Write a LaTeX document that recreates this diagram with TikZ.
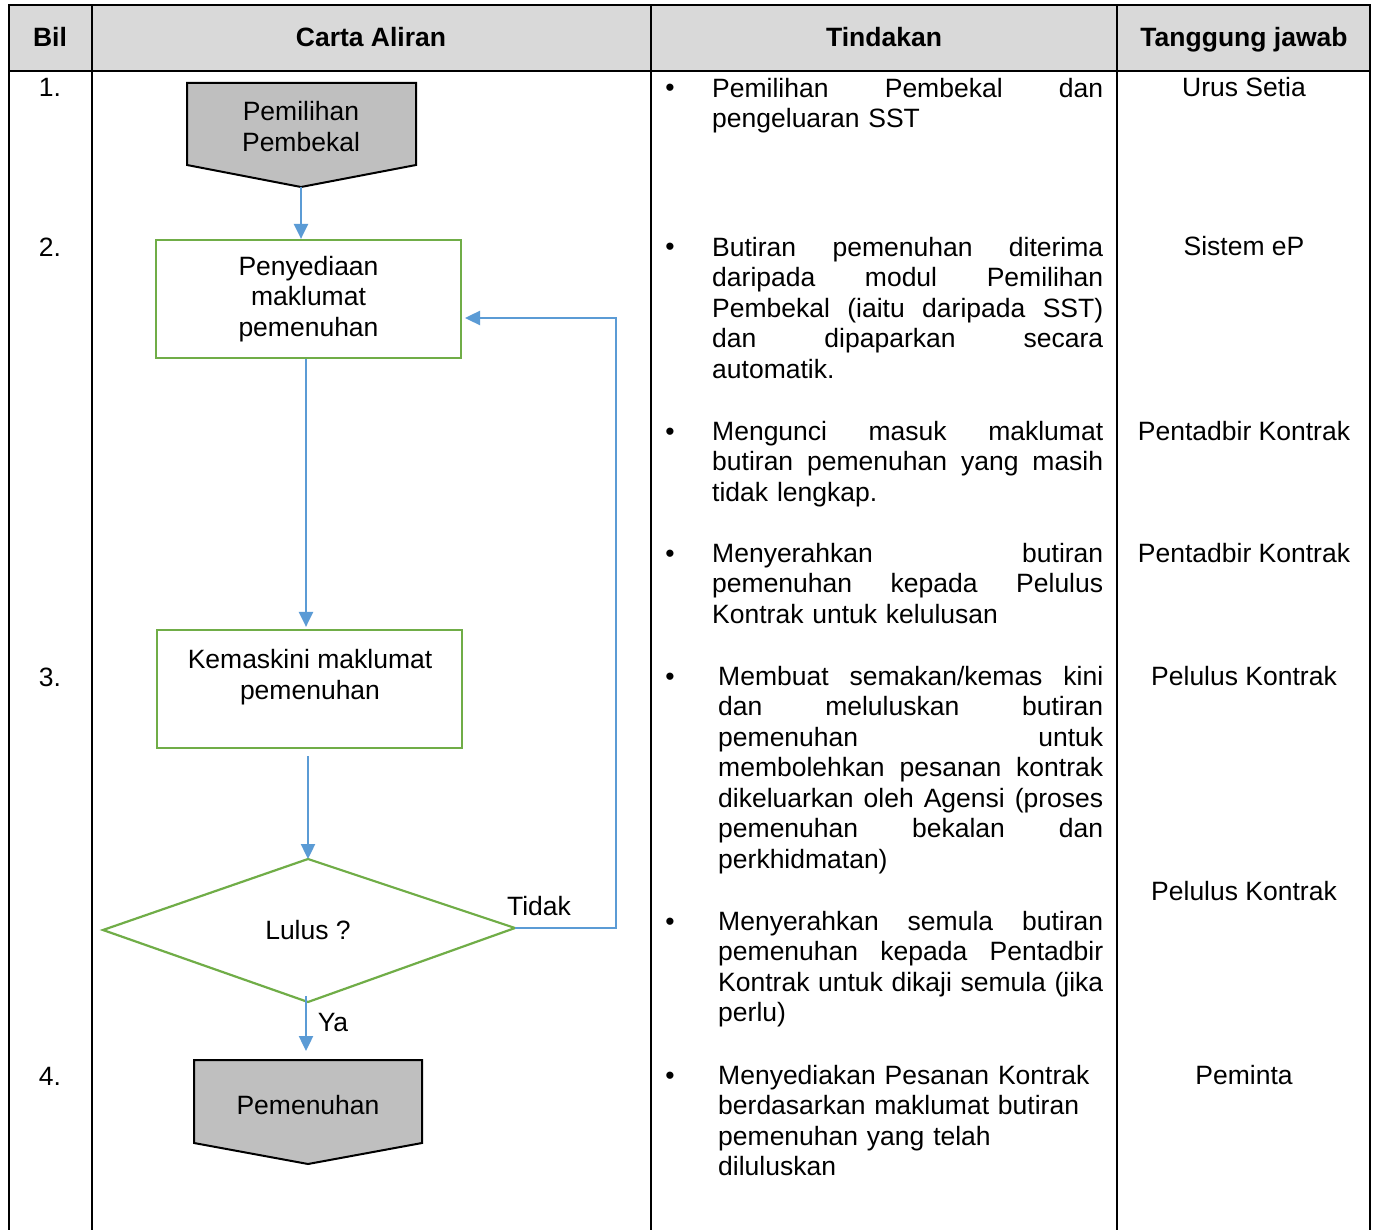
\documentclass[tikz,border=0pt]{standalone}
\usepackage{fontspec}
\setmainfont{Liberation Sans}
\usetikzlibrary{arrows.meta,calc}
\setlength\parindent{0pt}
\definecolor{flowblue}{HTML}{5B9BD5}
\definecolor{flowgreen}{HTML}{70AD47}
\definecolor{shapegray}{HTML}{BFBFBF}
\definecolor{headgray}{HTML}{D9D9D9}
\newcommand\jline[2]{\leavevmode\hbox to #1{#2}}
\begin{document}
\begin{tikzpicture}[x=1pt,y=-1pt,
  txt/.style={font=\fontsize{26.5pt}{30.5pt}\selectfont, inner sep=0pt},
  hdr/.style={txt, font=\fontsize{26.5pt}{30.5pt}\selectfont\bfseries, anchor=base},
  cell/.style={txt, anchor=base},
  para/.style={txt, anchor=north west, text width=#1, align=left},
  grid/.style={line width=1.8pt, black},
  gbox/.style={txt, draw=flowgreen, line width=2.2pt, minimum width=305pt, minimum height=118pt, align=center},
  conn/.style={draw=flowblue, line width=2.4pt, -{Triangle[length=15pt,width=14pt]}},
  offpage/.style={draw=black, fill=shapegray, line width=2pt, line join=miter},
  diam/.style={draw=flowgreen, line width=2.2pt, line join=miter},
]
\useasboundingbox (0,0) rectangle (1376,1230);
\fill[white] (0,0) rectangle (1376,1230);
% table
\fill[headgray] (9,5) rectangle (1370,71);
\draw[grid] (9,1230) -- (9,5) -- (1370,5) -- (1370,1230);
\draw[grid] (9,71) -- (1370,71);
\draw[grid] (92,5) -- (92,1230);
\draw[grid] (651,5) -- (651,1230);
\draw[grid] (1117,5) -- (1117,1230);
% header
\node[hdr] (hbil) at (50,46.5) {Bil};
\node[hdr] (hcarta) at (371,46.5) {Carta Aliran};
\node[hdr] (htind) at (884,46.5) {Tindakan};
\node[hdr] (htj) at (1244,46.5) {Tanggung jawab};
% Bil
\node[cell] (n1) at (50,97) {1.};
\node[cell] (n2) at (50,257) {2.};
\node[cell] (n3) at (50,686) {3.};
\node[cell] (n4) at (50,1085) {4.};
% Tindakan
\node[cell] (bu1) at (670,97) {•};
\node[para=391pt] (t1) at (712,{97-21.35}) {\strut\jline{391pt}{Pemilihan\hfill Pembekal\hfill dan}\\pengeluaran SST};
\node[cell] (bu2) at (670,256) {•};
\node[para=391pt] (t2) at (712,{256-21.35}) {\strut\jline{391pt}{Butiran\hfill pemenuhan\hfill diterima}\\\jline{391pt}{daripada\hfill modul\hfill Pemilihan}\\\jline{391pt}{Pembekal\hfill (iaitu\hfill daripada\hfill SST)}\\\jline{391pt}{dan\hfill dipaparkan\hfill secara}\\automatik.};
\node[cell] (bu3) at (670,440) {•};
\node[para=391pt] (t3) at (712,{440-21.35}) {\strut\jline{391pt}{Mengunci\hfill masuk\hfill maklumat}\\\jline{391pt}{butiran\hfill pemenuhan\hfill yang\hfill masih}\\tidak lengkap.};
\node[cell] (bu4) at (670,562) {•};
\node[para=391pt] (t4) at (712,{562-21.35}) {\strut\jline{391pt}{Menyerahkan\hfill butiran}\\\jline{391pt}{pemenuhan\hfill kepada\hfill Pelulus}\\Kontrak untuk kelulusan};
\node[cell] (bu5) at (670,685) {•};
\node[para=385pt] (t5) at (718,{685-21.35}) {\strut\jline{385pt}{Membuat\hfill semakan/kemas\hfill kini}\\\jline{385pt}{dan\hfill meluluskan\hfill butiran}\\\jline{385pt}{pemenuhan\hfill untuk}\\\jline{385pt}{membolehkan\hfill pesanan\hfill kontrak}\\\jline{385pt}{dikeluarkan\hfill oleh\hfill Agensi\hfill (proses}\\\jline{385pt}{pemenuhan\hfill bekalan\hfill dan}\\perkhidmatan)};
\node[cell] (bu6) at (670,930) {•};
\node[para=385pt] (t6) at (718,{930-21.35}) {\strut\jline{385pt}{Menyerahkan\hfill semula\hfill butiran}\\\jline{385pt}{pemenuhan\hfill kepada\hfill Pentadbir}\\\jline{385pt}{Kontrak\hfill untuk\hfill dikaji\hfill semula\hfill (jika}\\perlu)};
\node[cell] (bu7) at (670,1084) {•};
\node[para=385pt] (t7) at (718,{1084-21.35}) {\strut Menyediakan Pesanan Kontrak\\berdasarkan maklumat butiran\\pemenuhan yang telah\\diluluskan};
% Tanggung jawab
\node[cell] (r1) at (1244,97) {Urus Setia};
\node[cell] (r2) at (1244,256) {Sistem eP};
\node[cell] (r3) at (1244,440) {Pentadbir Kontrak};
\node[cell] (r4) at (1244,562) {Pentadbir Kontrak};
\node[cell] (r5) at (1244,685) {Pelulus Kontrak};
\node[cell] (r6) at (1244,900) {Pelulus Kontrak};
\node[cell] (r7) at (1244,1084) {Peminta};
% flowchart
\draw[offpage] (187,83) -- (416,83) -- (416,165) -- (301,187) -- (187,165) -- cycle;
\node[txt, align=center] (s1) at (301,126.5) {Pemilihan\\Pembekal};
\coordinate (s1tip) at (301,187);
\node[gbox] (b2) at (308.5,299) {Penyediaan\\maklumat\\pemenuhan};
\node[gbox] (b3) at (309.5,689) {};
\node[txt, align=center] (b3t) at (310,677) {Kemaskini maklumat\\pemenuhan};
\coordinate (dT) at (308,859);
\coordinate (dL) at (103,930);
\coordinate (dR) at (515,928);
\coordinate (dB) at (308,1002);
\draw[diam] (dT) -- (dR) -- (dB) -- (dL) -- cycle;
\node[cell] (lulus) at (308,939.5) {Lulus ?};
\draw[offpage] (194,1060) -- (422,1060) -- (422,1143) -- (308,1164) -- (194,1143) -- cycle;
\node[cell] (s4) at (308,1114) {Pemenuhan};
\coordinate (s4top) at (306,1051);
\coordinate (b2in) at (465,318);
% connectors
\draw[conn] (s1tip) -- (s1tip |- b2.north);
\draw[conn] ([xshift=-2.5pt]b2.south) -- ([xshift=-3.5pt,yshift=2pt]b3.north);
\draw[conn] ([xshift=-1.5pt,yshift=-7pt]b3.south) -- (dT);
\draw[conn] (dR) -- ++(101,0) |- (b2in);
\draw[conn] ([xshift=-2pt,yshift=6pt]dB) -- (s4top);
\node[cell] (tidak) at (539,915.5) {Tidak};
\node[cell] (ya) at (333,1031.5) {Ya};
\end{tikzpicture}
\end{document}
